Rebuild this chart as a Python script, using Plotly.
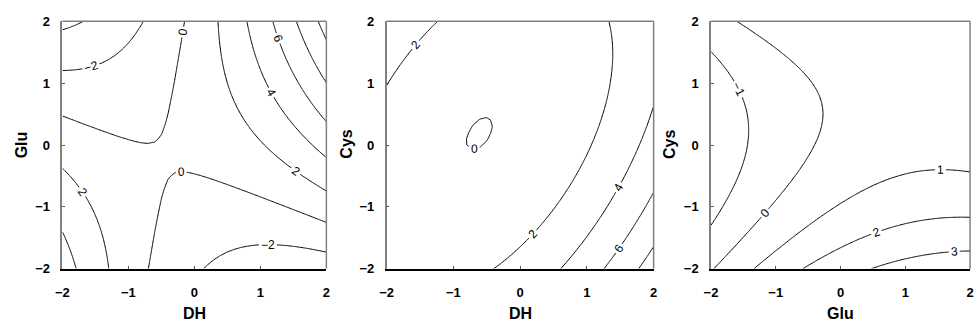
import numpy as np
import plotly.graph_objects as go

# Second-order response surface models, coded factor levels -2..2
# coefficient order: [b0, b1 (x), b2 (y), b11 (x^2), b22 (y^2), b12 (x*y)]
coef_dh_glu = [0.315, 0.891, 0.570, 0.655, -0.226, 1.458]
coef_dh_cys = [0.293, 0.895, -0.429, 0.661, 0.369, -0.478]
coef_glu_cys = [0.267, 0.582, -0.422, -0.209, 0.374, -0.171]

# contour levels per panel: start, end, step
levels_dh_glu = [-4, 10, 2]
levels_dh_cys = [0, 8, 2]
levels_glu_cys = [-1, 3, 1]

axis_ticks = [-2, -1, 0, 1, 2]
x_titles = ["DH", "DH", "Glu"]
y_titles = ["Glu", "Cys", "Cys"]

grid = np.linspace(-2, 2, 41)
X, Y = np.meshgrid(grid, grid)


def surface(c):
    return c[0] + c[1] * X + c[2] * Y + c[3] * X ** 2 + c[4] * Y ** 2 + c[5] * X * Y


W, H = 978, 334
FONT = "Liberation Sans, Arial, sans-serif"
panels_px = [(56, 323), (384, 654), (712, 974)]
ytitle_px = [15, 343, 670]
ydom = [(H - 274) / H, (H - 15) / H]

fig = go.Figure()
for i, (c, lv) in enumerate(zip([coef_dh_glu, coef_dh_cys, coef_glu_cys],
                                [levels_dh_glu, levels_dh_cys, levels_glu_cys])):
    n = "" if i == 0 else str(i + 1)
    x0, x1 = panels_px[i]
    fig.add_trace(go.Contour(
        x=grid, y=grid, z=surface(c), xaxis="x" + n, yaxis="y" + n,
        contours=dict(start=lv[0], end=lv[1], size=lv[2], coloring="none", showlabels=True,
                      labelfont=dict(family=FONT, size=12, color="black")),
        line=dict(width=1, color="black", smoothing=0),
        showscale=False, hoverinfo="skip"))
    common = dict(range=[-2, 2], tickvals=axis_ticks, ticks="inside", ticklen=3, tickcolor="#555",
                  tickfont=dict(family=FONT, size=13, color="black", weight="bold"),
                  showgrid=False, zeroline=False, showline=True, linewidth=1.5)
    fig.update_layout(**{
        "xaxis" + n: dict(common, domain=[x0 / W, x1 / W], anchor="y" + n, linecolor="black",
                          ticklabelstandoff=11),
        "yaxis" + n: dict(common, domain=ydom, anchor="x" + n, linecolor="#808080",
                          ticklabelstandoff=8),
    })
    # grey frame on top and right
    fig.add_shape(type="line", xref="x" + n + " domain", yref="y" + n + " domain",
                  x0=0, x1=1, y0=1, y1=1, line=dict(color="#808080", width=1.5))
    fig.add_shape(type="line", xref="x" + n + " domain", yref="y" + n + " domain",
                  x0=1, x1=1, y0=0, y1=1, line=dict(color="#808080", width=1.5))
    fig.add_annotation(text=x_titles[i], x=(x0 + x1) / 2 / W, y=(H - 321) / H,
                       xref="paper", yref="paper", xanchor="center", yanchor="middle",
                       showarrow=False, font=dict(family=FONT, size=16, color="black", weight="bold"))
    fig.add_annotation(text=y_titles[i], x=ytitle_px[i] / W, y=(H - 144) / H,
                       xref="paper", yref="paper", xanchor="center", yanchor="middle",
                       showarrow=False, textangle=-90,
                       font=dict(family=FONT, size=16, color="black", weight="bold"))

fig.update_layout(width=W, height=H, margin=dict(l=0, r=0, t=0, b=0),
                  plot_bgcolor="white", paper_bgcolor="white", showlegend=False)
fig.write_html("out.html")
